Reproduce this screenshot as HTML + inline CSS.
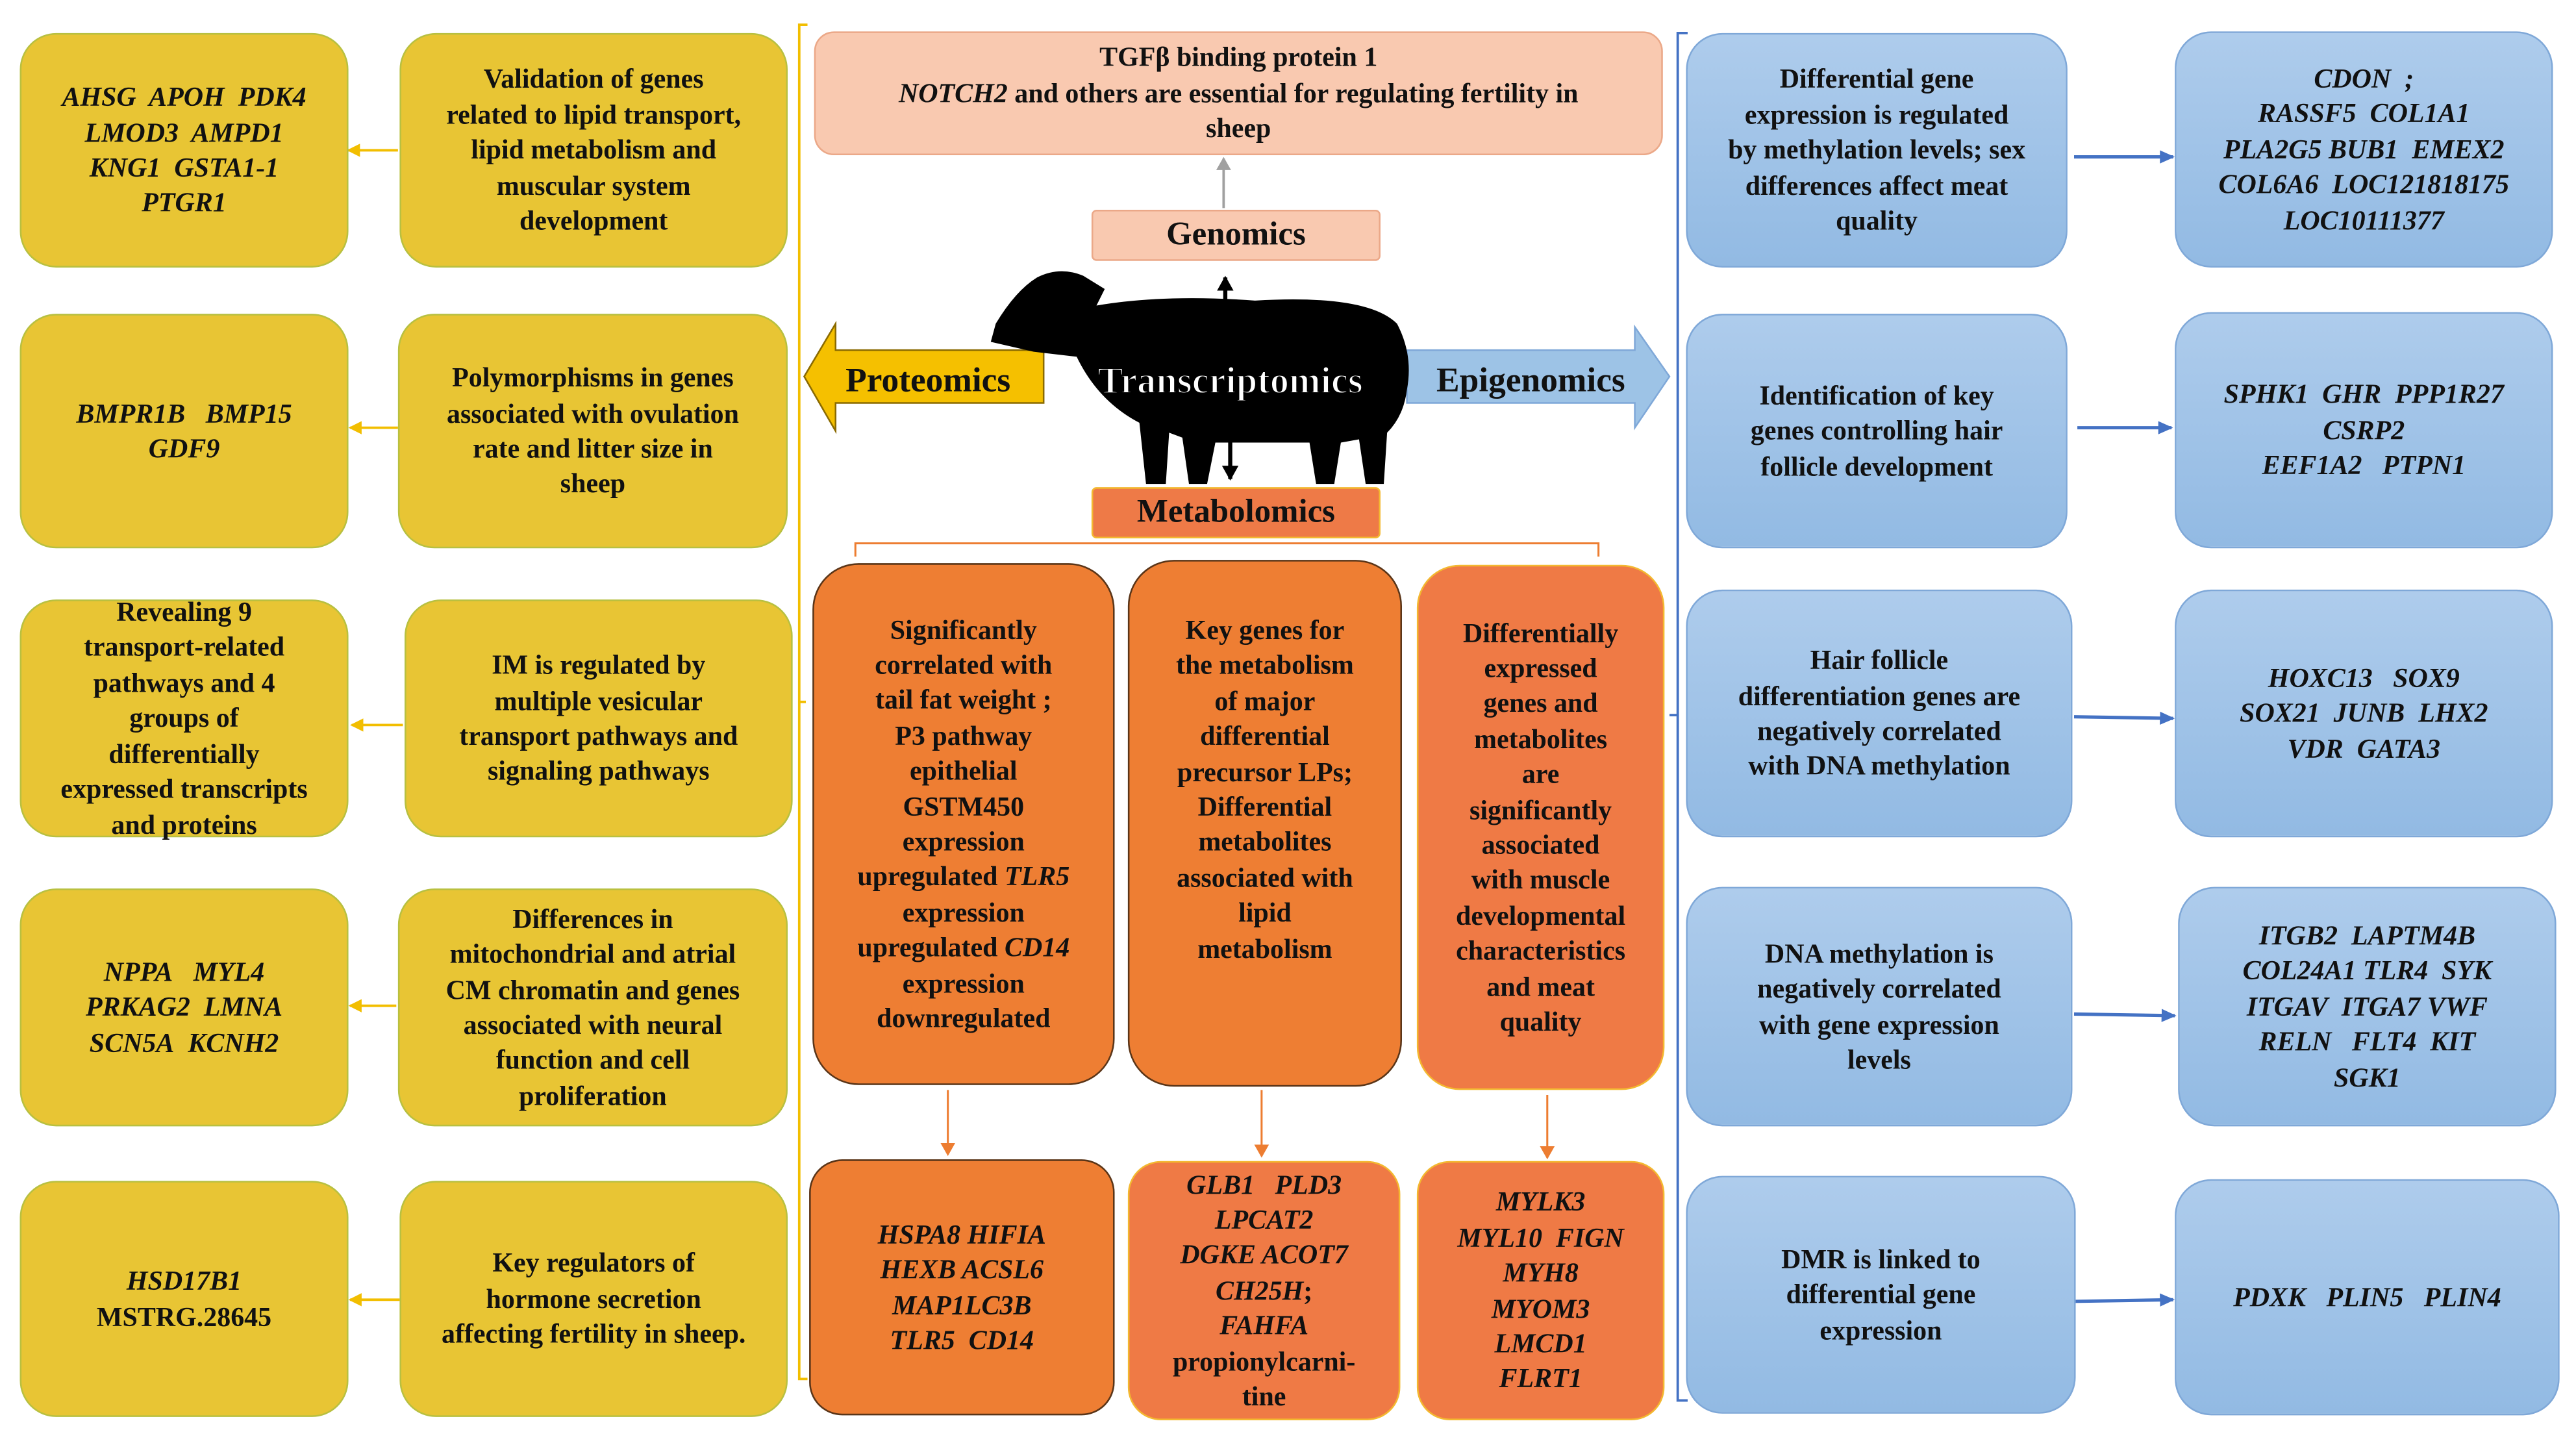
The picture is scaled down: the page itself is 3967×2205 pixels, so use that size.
<!DOCTYPE html>
<html><head><meta charset="utf-8">
<style>
html,body{margin:0;padding:0;background:#fff;}
body{width:3967px;height:2205px;overflow:hidden;position:relative;}
#s{position:absolute;left:0;top:0;width:1560px;height:867px;transform:scale(2.543);transform-origin:0 0;font-family:"Liberation Serif",serif;font-weight:bold;color:#111;}
.b{position:absolute;box-sizing:border-box;display:flex;align-items:center;justify-content:center;text-align:center;font-size:16.5px;line-height:21.4px;border-radius:22px;white-space:nowrap;}
.y{background:#E8C534;border:1.5px solid #B8C040;}
.bl{background:linear-gradient(#AECCEC,#92BAE3);border:1.5px solid #7FA8D8;}
.o{background:#EE7E33;border:1.5px solid #5A3518;}
.o2{background:#EF7A45;border:1.5px solid #F3B830;}
.g{font-style:italic;}
</style></head><body><div id="s">
<svg width="1560" height="867" style="position:absolute;left:0;top:0">
<defs>
<marker id="ay" markerWidth="8" markerHeight="8" refX="7" refY="4" orient="auto" markerUnits="userSpaceOnUse"><path d="M0,0 L8,4 L0,8z" fill="#F2BE00"/></marker>
<marker id="ab" markerWidth="9" markerHeight="8" refX="8" refY="4" orient="auto" markerUnits="userSpaceOnUse"><path d="M0,0 L9,4 L0,8z" fill="#4472C4"/></marker>
<marker id="ao" markerWidth="8" markerHeight="9" refX="7" refY="4.5" orient="auto" markerUnits="userSpaceOnUse"><path d="M0,0 L8,4.5 L0,9z" fill="#ED7D31"/></marker>
<marker id="ag" markerWidth="8" markerHeight="9" refX="7" refY="4.5" orient="auto" markerUnits="userSpaceOnUse"><path d="M0,0 L8,4.5 L0,9z" fill="#A0A0A0"/></marker>
<marker id="ak" markerWidth="9" markerHeight="10" refX="8" refY="5" orient="auto" markerUnits="userSpaceOnUse"><path d="M0,0 L9,5 L0,10z" fill="#000"/></marker>
</defs>
<path d="M489,15 L484,15 L484,835 L489,835" stroke="#F2BE00" stroke-width="1.5" fill="none"/>
<line x1="484" y1="425" x2="488" y2="425" stroke="#F2BE00" stroke-width="1.5"/>
<path d="M1022,20 L1016,20 L1016,848 L1022,848" stroke="#4472C4" stroke-width="1.5" fill="none"/>
<line x1="1016" y1="433" x2="1011" y2="433" stroke="#4472C4" stroke-width="1.5"/>
<line x1="241" y1="91" x2="211" y2="91" stroke="#F2BE00" stroke-width="1.5" marker-end="url(#ay)"/>
<line x1="241" y1="259" x2="212" y2="259" stroke="#F2BE00" stroke-width="1.5" marker-end="url(#ay)"/>
<line x1="244" y1="439" x2="213" y2="439" stroke="#F2BE00" stroke-width="1.5" marker-end="url(#ay)"/>
<line x1="240" y1="609" x2="212" y2="609" stroke="#F2BE00" stroke-width="1.5" marker-end="url(#ay)"/>
<line x1="242" y1="787" x2="212" y2="787" stroke="#F2BE00" stroke-width="1.5" marker-end="url(#ay)"/>
<line x1="1256" y1="95" x2="1316" y2="95" stroke="#4472C4" stroke-width="2" marker-end="url(#ab)"/>
<line x1="1258" y1="259" x2="1315" y2="259" stroke="#4472C4" stroke-width="2" marker-end="url(#ab)"/>
<line x1="1256" y1="434" x2="1316" y2="435" stroke="#4472C4" stroke-width="2" marker-end="url(#ab)"/>
<line x1="1256" y1="614" x2="1317" y2="615" stroke="#4472C4" stroke-width="2" marker-end="url(#ab)"/>
<line x1="1256" y1="788" x2="1316" y2="787" stroke="#4472C4" stroke-width="2" marker-end="url(#ab)"/>
<line x1="741" y1="126" x2="741" y2="96" stroke="#A0A0A0" stroke-width="1.5" marker-end="url(#ag)"/>
<path d="M518,337 L518,329 L968,329 L968,337" stroke="#ED7D31" stroke-width="1.2" fill="none"/>
<line x1="574" y1="660" x2="574" y2="699" stroke="#ED7D31" stroke-width="1.2" marker-end="url(#ao)"/>
<line x1="764" y1="660" x2="764" y2="700" stroke="#ED7D31" stroke-width="1.2" marker-end="url(#ao)"/>
<line x1="937" y1="663" x2="937" y2="701" stroke="#ED7D31" stroke-width="1.2" marker-end="url(#ao)"/>
<path d="M632,212 L506,212 L506,196 L487,228 L506,261 L506,244 L632,244 Z" fill="#F5C000" stroke="#8a6a00" stroke-width="1"/>
<path d="M852,212 L990,212 L990,198 L1011,228 L990,259 L990,244 L852,244 Z" fill="#9DC3E6" stroke="#7FA8D8" stroke-width="1"/>
<path d="M628,168 Q642,161 656,167 L669,175 L664,185 Q705,178 760,182 Q828,178 846,196 Q856,215 852,236 Q850,252 840,262 L838,293 L827,293 L823,266 L812,268 L808,293 L797,293 L793,268 L736,268 L731,293 L720,293 L716,265 L708,262 L706,293 L694,293 L690,256 Q665,243 652,216 L626,213 L600,207 L603,196 Q615,176 628,168 Z" fill="#000"/>
<line x1="742" y1="192" x2="742" y2="168" stroke="#000" stroke-width="2.5" marker-end="url(#ak)"/>
<line x1="745" y1="242" x2="745" y2="290" stroke="#000" stroke-width="2.5" marker-end="url(#ak)"/>
<text x="745" y="238" text-anchor="middle" font-family="Liberation Serif" font-weight="bold" font-size="23" fill="#fff" stroke="#000" stroke-width="0.8">Transcriptomics</text>
<text x="562" y="237" text-anchor="middle" font-family="Liberation Serif" font-weight="bold" font-size="21" fill="#111">Proteomics</text>
<text x="927" y="237" text-anchor="middle" font-family="Liberation Serif" font-weight="bold" font-size="21" fill="#111">Epigenomics</text>
</svg>

<div class="b y g" style="left:12px;top:20px;width:199px;height:142px;">AHSG&nbsp; APOH&nbsp; PDK4<br>LMOD3&nbsp; AMPD1<br>KNG1&nbsp; GSTA1-1<br>PTGR1</div>
<div class="b y" style="left:242px;top:20px;width:235px;height:142px;">Validation of genes<br>related to lipid transport,<br>lipid metabolism and<br>muscular system<br>development</div>
<div class="b y g" style="left:12px;top:190px;width:199px;height:142px;">BMPR1B&nbsp;&nbsp; BMP15<br>GDF9</div>
<div class="b y" style="left:241px;top:190px;width:236px;height:142px;">Polymorphisms in genes<br>associated with ovulation<br>rate and litter size in<br>sheep</div>
<div class="b y" style="left:12px;top:363px;width:199px;height:144px;">Revealing 9<br>transport-related<br>pathways and 4<br>groups of<br>differentially<br>expressed transcripts<br>and proteins</div>
<div class="b y" style="left:245px;top:363px;width:235px;height:144px;">IM is regulated by<br>multiple vesicular<br>transport pathways and<br>signaling pathways</div>
<div class="b y g" style="left:12px;top:538px;width:199px;height:144px;">NPPA&nbsp;&nbsp; MYL4<br>PRKAG2&nbsp; LMNA<br>SCN5A&nbsp; KCNH2</div>
<div class="b y" style="left:241px;top:538px;width:236px;height:144px;">Differences in<br>mitochondrial and atrial<br>CM chromatin and genes<br>associated with neural<br>function and cell<br>proliferation</div>
<div class="b y" style="left:12px;top:715px;width:199px;height:143px;"><span><i>HSD17B1</i><br>MSTRG.28645</span></div>
<div class="b y" style="left:242px;top:715px;width:235px;height:143px;">Key regulators of<br>hormone secretion<br>affecting fertility in sheep.</div>

<div class="b" style="left:493px;top:19px;width:514px;height:75px;background:#F9C9B0;border:1.5px solid #EBA888;border-radius:12px;"><span>TGFβ binding protein 1<br><i>NOTCH2</i> and others are essential for regulating fertility in<br>sheep</span></div>
<div class="b" style="left:661px;top:127px;width:175px;height:31px;background:#F9C9B0;border:1.5px solid #EBA888;border-radius:3px;font-size:20px;">Genomics</div>
<div class="b" style="left:661px;top:295px;width:175px;height:31px;background:#EE7A47;border:1.5px solid #F3B830;border-radius:3px;font-size:20px;">Metabolomics</div>
<div class="b o" style="left:492px;top:341px;width:183px;height:316px;border-radius:28px;"><span>Significantly<br>correlated with<br>tail fat weight ;<br>P3 pathway<br>epithelial<br>GSTM450<br>expression<br>upregulated <i>TLR5</i><br>expression<br>upregulated <i>CD14</i><br>expression<br>downregulated</span></div>
<div class="b o" style="left:683px;top:339px;width:166px;height:319px;align-items:flex-start;padding-top:31px;border-radius:28px;"><span>Key genes for<br>the metabolism<br>of major<br>differential<br>precursor LPs;<br>Differential<br>metabolites<br>associated with<br>lipid<br>metabolism</span></div>
<div class="b o2" style="left:858px;top:342px;width:150px;height:318px;border-radius:26px;"><span>Differentially<br>expressed<br>genes and<br>metabolites<br>are<br>significantly<br>associated<br>with muscle<br>developmental<br>characteristics<br>and meat<br>quality</span></div>
<div class="b o g" style="left:490px;top:702px;width:185px;height:155px;border-radius:20px;">HSPA8 HIFIA<br>HEXB ACSL6<br>MAP1LC3B<br>TLR5&nbsp; CD14</div>
<div class="b o2" style="left:683px;top:703px;width:165px;height:157px;border-radius:20px;"><span><i>GLB1&nbsp;&nbsp; PLD3<br>LPCAT2<br>DGKE ACOT7<br>CH25H</i>;<br><i>FAHFA</i><br>propionylcarni-<br>tine</span></div>
<div class="b o2 g" style="left:858px;top:703px;width:150px;height:157px;border-radius:20px;">MYLK3<br>MYL10&nbsp; FIGN<br>MYH8<br>MYOM3<br>LMCD1<br>FLRT1</div>

<div class="b bl" style="left:1021px;top:20px;width:231px;height:142px;">Differential gene<br>expression is regulated<br>by methylation levels; sex<br>differences affect meat<br>quality</div>
<div class="b bl g" style="left:1317px;top:19px;width:229px;height:143px;">CDON&nbsp; ;<br>RASSF5&nbsp; COL1A1<br>PLA2G5 BUB1&nbsp; EMEX2<br>COL6A6&nbsp; LOC121818175<br>LOC10111377</div>
<div class="b bl" style="left:1021px;top:190px;width:231px;height:142px;">Identification of key<br>genes controlling hair<br>follicle development</div>
<div class="b bl g" style="left:1317px;top:189px;width:229px;height:143px;">SPHK1&nbsp; GHR&nbsp; PPP1R27<br>CSRP2<br>EEF1A2&nbsp;&nbsp; PTPN1</div>
<div class="b bl" style="left:1021px;top:357px;width:234px;height:150px;">Hair follicle<br>differentiation genes are<br>negatively correlated<br>with DNA methylation</div>
<div class="b bl g" style="left:1317px;top:357px;width:229px;height:150px;">HOXC13&nbsp;&nbsp; SOX9<br>SOX21&nbsp; JUNB&nbsp; LHX2<br>VDR&nbsp; GATA3</div>
<div class="b bl" style="left:1021px;top:537px;width:234px;height:145px;">DNA methylation is<br>negatively correlated<br>with gene expression<br>levels</div>
<div class="b bl g" style="left:1319px;top:537px;width:229px;height:145px;">ITGB2&nbsp; LAPTM4B<br>COL24A1 TLR4&nbsp; SYK<br>ITGAV&nbsp; ITGA7 VWF<br>RELN&nbsp;&nbsp; FLT4&nbsp; KIT<br>SGK1</div>
<div class="b bl" style="left:1021px;top:712px;width:236px;height:144px;">DMR is linked to<br>differential gene<br>expression</div>
<div class="b bl g" style="left:1317px;top:714px;width:233px;height:143px;">PDXK&nbsp;&nbsp; PLIN5&nbsp;&nbsp; PLIN4</div>
</div></body></html>
